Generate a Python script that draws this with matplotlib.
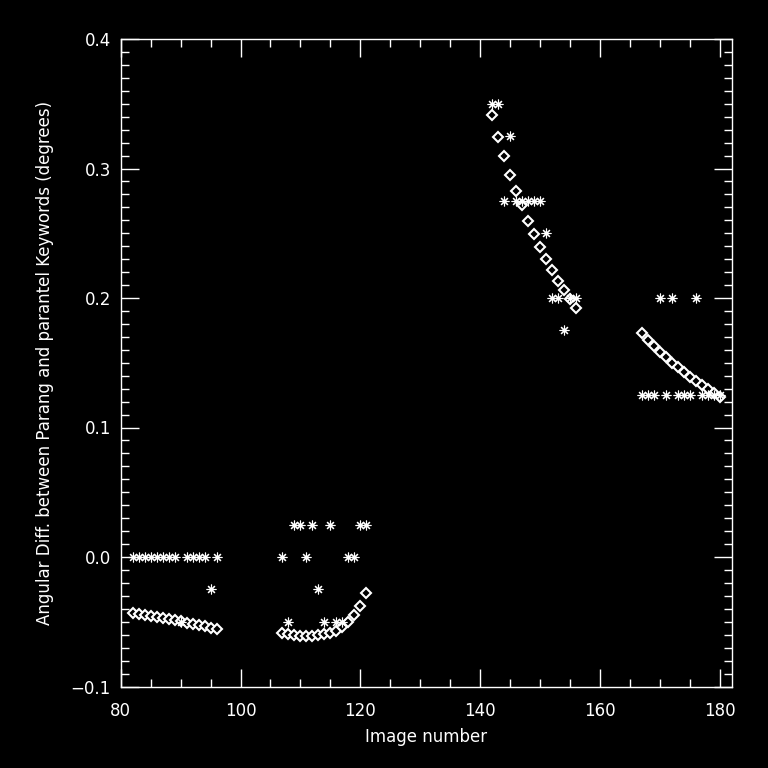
import matplotlib
matplotlib.use("Agg")
import matplotlib.pyplot as plt
from matplotlib.ticker import MultipleLocator

# Asterisk series (keyword difference, quantised)
ast_x = [82, 83, 84, 85, 86, 87, 88, 89, 90, 91, 92, 93, 94, 95, 96,
         107, 108, 109, 110, 111, 112, 113, 114, 115, 116, 117, 118, 119, 120, 121,
         142, 143, 144, 145, 146, 147, 148, 149, 150, 151, 152, 153, 154, 155, 156,
         167, 168, 169, 170, 171, 172, 173, 174, 175, 176, 177, 178, 179, 180]
ast_y = [0, 0, 0, 0, 0, 0, 0, 0, -0.05, 0, 0, 0, 0, -0.025, 0,
         0, -0.05, 0.025, 0.025, 0, 0.025, -0.025, -0.05, 0.025, -0.05, -0.05, 0, 0, 0.025, 0.025,
         0.35, 0.35, 0.275, 0.325, 0.275, 0.275, 0.275, 0.275, 0.275, 0.25, 0.2, 0.2, 0.175, 0.2, 0.2,
         0.125, 0.125, 0.125, 0.2, 0.125, 0.2, 0.125, 0.125, 0.125, 0.2, 0.125, 0.125, 0.125, 0.125]

# Diamond series (computed difference)
dia_x = list(range(82, 97)) + list(range(107, 122)) + list(range(142, 157)) + list(range(167, 181))
dia_y = [-0.043, -0.044, -0.045, -0.0458, -0.0466, -0.0474, -0.0482, -0.049,
         -0.0498, -0.0508, -0.0517, -0.0526, -0.0535, -0.0547, -0.0557,
         -0.0589, -0.0597, -0.0603, -0.0607, -0.061, -0.0611, -0.0606, -0.0598,
         -0.0586, -0.0568, -0.0540, -0.0503, -0.0448, -0.0378, -0.0279,
         0.3411, 0.324, 0.3093, 0.2953, 0.2829, 0.2716, 0.2597, 0.2496,
         0.2395, 0.2302, 0.2217, 0.2132, 0.2062, 0.1992, 0.1922,
         0.1729, 0.1674, 0.1628, 0.1586, 0.1545, 0.1501, 0.1465, 0.1429,
         0.139, 0.1359, 0.1328, 0.1299, 0.1268, 0.1237]

x_ticks = [80, 100, 120, 140, 160, 180]
y_ticks = [-0.1, 0.0, 0.1, 0.2, 0.3, 0.4]
y_labels = ["\u22120.1", "0.0", "0.1", "0.2", "0.3", "0.4"]

plt.rcParams['font.family'] = ['DejaVu Sans']
fig = plt.figure(figsize=(7.68, 7.68), dpi=100, facecolor='black')
ax = fig.add_axes([120.7 / 768, 1 - 686.5 / 768, 611 / 768, 647.5 / 768])
ax.set_facecolor('black')

ax.plot(dia_x, dia_y, linestyle='none', marker='D', markersize=4.6,
        markerfacecolor='black', markeredgecolor='white', markeredgewidth=1.5)
ax.plot(ast_x, ast_y, linestyle='none', marker=(8, 2, 0), markersize=7,
        markeredgecolor='white', color='white', markeredgewidth=0.8)

ax.set_xlim(80, 182)
ax.set_ylim(-0.1, 0.4)
ax.set_xticks(x_ticks)
ax.set_yticks(y_ticks)
ax.set_yticklabels(y_labels)
ax.xaxis.set_minor_locator(MultipleLocator(5))
ax.yaxis.set_minor_locator(MultipleLocator(0.01))

for s in ax.spines.values():
    s.set_color('white')
    s.set_linewidth(1.0)

ax.tick_params(which='both', direction='in', colors='white', top=True, right=True,
               labelsize=12, width=1.0)
ax.tick_params(axis='x', which='major', length=13, pad=11)
ax.tick_params(axis='y', which='major', length=13, pad=7)
ax.tick_params(which='minor', length=6)

ax.set_xlabel("Image number", color='white', fontsize=12, labelpad=6)
ax.set_ylabel("Angular Diff. between Parang and parantel Keywords (degrees)",
              color='white', fontsize=12, labelpad=12)

fig.savefig("out.png", dpi=100, facecolor='black')
